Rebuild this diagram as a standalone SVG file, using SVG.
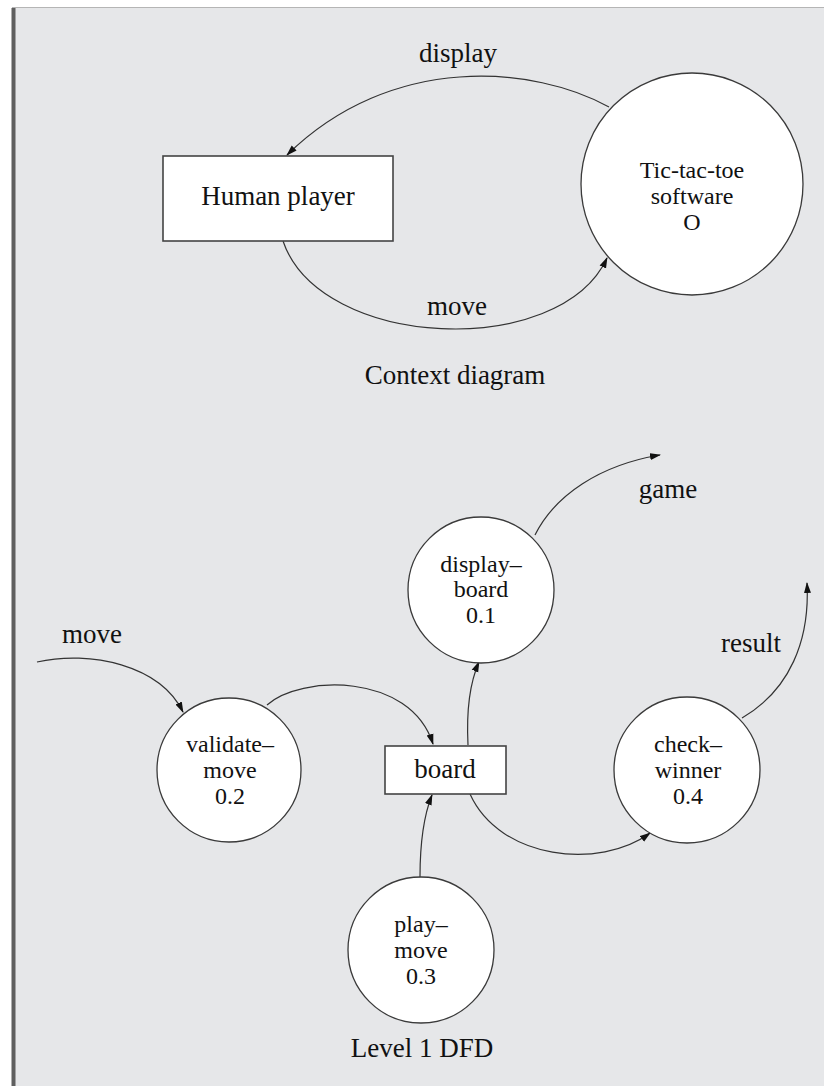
<svg xmlns="http://www.w3.org/2000/svg" width="824" height="1086" viewBox="0 0 824 1086">
  <style>
    .lbl { font-family: "Liberation Serif", "Times New Roman", serif; font-size: 27px; fill: #111; text-anchor: middle; }
    .small { font-size: 24px; }
    .inner { font-size: 24px; }
    .proc { fill: #ffffff; stroke: #3a3a3a; stroke-width: 1.3; }
    .store { fill: #ffffff; stroke: #444; stroke-width: 1.6; }
    .flow { fill: none; stroke: #333; stroke-width: 1.2; marker-end: url(#arrow); }
  </style>
  <defs>
    <marker id="arrow" markerUnits="userSpaceOnUse" markerWidth="11" markerHeight="8" refX="10" refY="4" orient="auto">
      <path d="M0,0.5 L11,4 L0,7.5 Z" fill="#111"/>
    </marker>
  </defs>

  <!-- page background and frame -->
  <rect x="0" y="0" width="824" height="1086" fill="#ffffff"/>
  <rect x="13" y="8" width="811" height="1078" fill="#e6e7e9"/>
  <line x1="12" y1="7.5" x2="824" y2="7.5" stroke="#b5b5b5" stroke-width="1.2"/>
  <rect x="11.5" y="8" width="4" height="1078" fill="#5f5f5f"/>

  <!-- connectors -->
  <g id="connectors">
    <path class="flow" d="M609,107 C535,66 392,52 287,155"/>
    <path class="flow" d="M283,241 C320,350 560,360 607,258"/>
    <path class="flow" d="M37,662 C90,650 160,665 183,712"/>
    <path class="flow" d="M267,705 C300,675 410,672 433,744"/>
    <path class="flow" d="M468,745 C466,705 471,680 479,662"/>
    <path class="flow" d="M535,535 C555,495 600,465 660,455"/>
    <path class="flow" d="M420,877 C420,840 424,815 432,795"/>
    <path class="flow" d="M470,794 C500,860 600,870 650,833"/>
    <path class="flow" d="M742,718 C790,690 810,640 807,583"/>
  </g>

  <!-- connector labels -->
  <g id="flow-labels">
    <text class="lbl" x="458" y="62">display</text>
    <text class="lbl" x="457" y="315">move</text>
    <text class="lbl" x="668" y="498">game</text>
    <text class="lbl" x="92" y="643">move</text>
    <text class="lbl" x="751" y="652">result</text>
  </g>

  <!-- context diagram nodes -->
  <g id="human-player">
    <rect class="store" x="163" y="156" width="230" height="85"/>
    <text class="lbl" x="278" y="205">Human player</text>
  </g>
  <g id="tic-tac-toe-software">
    <circle class="proc" cx="692" cy="184" r="111"/>
    <text class="lbl small" x="692" y="178">Tic-tac-toe</text>
    <text class="lbl small" x="692" y="204">software</text>
    <text class="lbl small" x="692" y="230">O</text>
  </g>
  <g id="caption-context">
    <text class="lbl" x="455" y="384">Context diagram</text>
  </g>

  <!-- level 1 DFD nodes -->
  <g id="display-board">
    <circle class="proc" cx="481" cy="590" r="73"/>
    <text class="lbl inner" x="481" y="572">display–</text>
    <text class="lbl inner" x="481" y="597">board</text>
    <text class="lbl inner" x="481" y="623">0.1</text>
  </g>
  <g id="validate-move">
    <circle class="proc" cx="229" cy="770" r="72"/>
    <text class="lbl inner" x="230" y="752">validate–</text>
    <text class="lbl inner" x="230" y="778">move</text>
    <text class="lbl inner" x="230" y="804">0.2</text>
  </g>
  <g id="board">
    <rect class="store" x="385" y="746" width="121" height="48"/>
    <text class="lbl" x="445" y="778">board</text>
  </g>
  <g id="check-winner">
    <circle class="proc" cx="687" cy="770" r="73"/>
    <text class="lbl inner" x="688" y="752">check–</text>
    <text class="lbl inner" x="688" y="778">winner</text>
    <text class="lbl inner" x="688" y="804">0.4</text>
  </g>
  <g id="play-move">
    <circle class="proc" cx="421" cy="950" r="73"/>
    <text class="lbl inner" x="421" y="932">play–</text>
    <text class="lbl inner" x="421" y="958">move</text>
    <text class="lbl inner" x="421" y="984">0.3</text>
  </g>
  <g id="caption-level1">
    <text class="lbl" x="422" y="1057">Level 1 DFD</text>
  </g>
</svg>
